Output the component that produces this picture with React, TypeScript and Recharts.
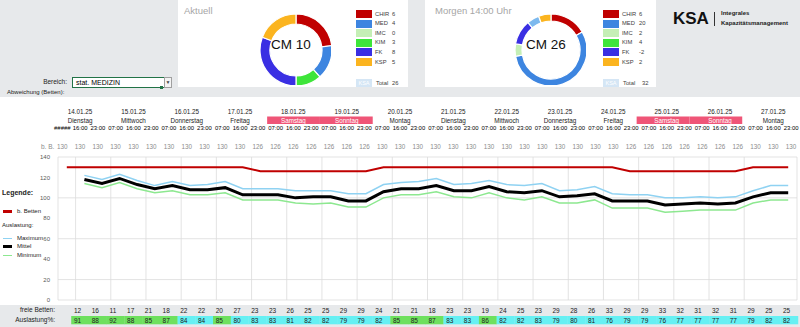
import React from 'react';
import { LineChart, Line, XAxis, YAxis, CartesianGrid, PieChart, Pie, Cell } from 'recharts';

// --- donut panels ---
const categories = ['CHIR', 'MED', 'IMC', 'KIM', 'FK', 'KSP'];
const categoryColors = ['#c00000', '#3d85e0', '#c5efb6', '#3ee53a', '#3a2fe3', '#fbb41f'];
const aktuellValues = [6, 4, 0, 3, 8, 5];
const aktuellTotal = 26;
const morgenValues = [6, 20, 2, 4, -2, 2];
const morgenTotal = 32;
// slice sizes / colours as they appear in the "Morgen" donut
const morgenSlices = [6, 20, 2, 4, 2, 2];
const morgenSliceColors = ['#c00000', '#3d85e0', '#c5efb6', '#3a2fe3', '#7db9ee', '#fbb41f'];

// --- timeline ---
const dates = ['14.01.25', '15.01.25', '16.01.25', '17.01.25', '18.01.25', '19.01.25', '20.01.25',
  '21.01.25', '22.01.25', '23.01.25', '24.01.25', '25.01.25', '26.01.25', '27.01.25'];
const weekdays = ['Dienstag', 'Mittwoch', 'Donnerstag', 'Freitag', 'Samstag', 'Sonntag', 'Montag',
  'Dienstag', 'Mittwoch', 'Donnerstag', 'Freitag', 'Samstag', 'Sonntag', 'Montag'];
const shiftTimes = ['07:00', '16:00', '23:00'];
const timeLabels = dates.flatMap((_, d) => shiftTimes.map((t, s) => (d === 0 && s === 0 ? '#####' : t)));

const betten = [130, 130, 130, 130, 130, 130, 130, 130, 130, 130, 130,
  126, 126, 126, 126, 126, 126, 126,
  130, 130, 130, 130, 130, 130, 130, 130, 130, 130, 130, 130, 130, 130,
  126, 126, 126, 126, 126, 126, 126,
  130, 130, 130];

// from slot 2 on
const maximum = [122, 118, 123, 117, 112, 116, 112, 113, 116, 109, 109, 109, 107, 107, 107, 104, 104,
  113, 115, 116, 119, 113, 114, 117, 113, 112, 114, 107, 108, 111, 104, 103, 103, 100, 100, 101, 100, 101,
  107, 112, 112];
const mittel = [118, 114, 119, 113, 109, 112, 108, 108, 110, 103, 103, 103, 100, 101, 101, 97, 97,
  106, 109, 109, 112, 107, 107, 111, 106, 105, 107, 101, 102, 104, 97, 97, 97, 93, 94, 95, 94, 95,
  101, 105, 105];
const minimum = [114, 110, 115, 109, 105, 107, 103, 103, 105, 98, 98, 98, 95, 94, 95, 91, 91,
  100, 103, 103, 106, 101, 100, 105, 100, 98, 101, 95, 95, 98, 90, 90, 90, 86, 87, 88, 88, 88,
  95, 98, 98];

const freieBetten = [12, 16, 11, 17, 21, 18, 22, 22, 20, 27, 23, 23, 26, 25, 25, 29, 29, 24, 21, 21,
  18, 23, 23, 19, 24, 25, 23, 29, 28, 26, 33, 29, 29, 33, 32, 31, 32, 31, 29, 25, 25];
const auslastung = [91, 88, 92, 88, 85, 87, 84, 84, 85, 80, 83, 83, 81, 82, 82, 79, 79, 82, 85, 85,
  87, 83, 83, 86, 82, 82, 83, 79, 80, 81, 76, 79, 79, 76, 77, 77, 77, 77, 79, 82, 82];

const yTicks = [0, 20, 40, 60, 80, 100, 120, 140];

const rows = betten.map((b, i) => ({
  x: i,
  bb: b,
  max: i === 0 ? null : maximum[i - 1],
  mittel: i === 0 ? null : mittel[i - 1],
  min: i === 0 ? null : minimum[i - 1],
}));
const slotTicks = betten.map((_, i) => i);
const tableTicks = slotTicks.slice(1);
const gridTicks = [...betten.map((_, i) => i - 0.5), betten.length - 0.5];
const xDomain = [-0.5, betten.length - 0.5];

const STEP = 17.6;
const FONT = "'Liberation Sans', Arial, sans-serif";
const GRAY = '#e7e9eb';

const HeaderTick = (props: any) => {
  const { x, y, payload } = props;
  const i = payload.value as number;
  const d = Math.floor(i / 3);
  const s = i % 3;
  const tx = x - 4.5 + 0.18 * i;
  const weekend = weekdays[d] === 'Samstag' || weekdays[d] === 'Sonntag';
  return (
    <g fontSize={6.3} fontFamily={FONT}>
      {weekend && s === 0 && (
        <rect x={x - STEP / 2 - 2} y={y - 40.5} width={STEP * 3} height={7.5} fill="#ef5577" />
      )}
      {s === 1 && <text x={tx} y={y - 43.5} textAnchor="middle" fill="#222">{dates[d]}</text>}
      {s === 1 && (
        <text x={tx} y={y - 34.5} textAnchor="middle" fill={weekend ? '#fff' : '#222'}>{weekdays[d]}</text>
      )}
      <text x={tx} y={y - 27} textAnchor="middle" fill="#000" fontSize={5.9}>{timeLabels[i]}</text>
      <text x={tx} y={y - 8} textAnchor="middle" fill="#8c8c8c">{betten[i]}</text>
    </g>
  );
};

const TableTick = (props: any) => {
  const { x, y, payload } = props;
  const i = payload.value as number;
  const j = i - 1;
  const left = x - STEP / 2 - 4.5 + 0.13 * i;
  const tx = left + STEP / 2 - 2.5;
  const pct = auslastung[j];
  return (
    <g fontSize={6.5} fontFamily={FONT}>
      <rect x={left} y={y + 16} width={STEP + 0.4} height={8.3} fill={pct >= 85 ? '#6ee05e' : '#66f0f3'} />
      <text x={tx} y={y + 12.5} textAnchor="middle" fill="#222">{freieBetten[j]}</text>
      <text x={tx} y={y + 22.5} textAnchor="middle" fill="#222">{pct}</text>
    </g>
  );
};

const Label = ({ x, y, size = 6.5, right, children, style }: any) => (
  <div
    style={{
      position: 'absolute',
      top: y - size * 0.6,
      ...(right !== undefined ? { right: 800 - right } : { left: x }),
      fontSize: size,
      lineHeight: `${size * 1.2}px`,
      whiteSpace: 'nowrap',
      color: '#222',
      ...style,
    }}
  >
    {children}
  </div>
);

const Panel = ({ left, width, title, titleX, pieLeft, inner, slices, colors, values, total, totalX, cm }: any) => {
  const pieData = slices.map((v: number, k: number) => ({ name: categories[k], value: v }));
  return (
    <div style={{ position: 'absolute', left, top: 0, width, height: 87, background: '#fff' }}>
      <Label x={titleX} y={11} size={9.5} style={{ color: '#a6a6a6' }}>{title}</Label>
      <div style={{ position: 'absolute', left: pieLeft, top: 5, width: 80, height: 80 }}>
        <PieChart width={80} height={80}>
          <Pie
            data={pieData}
            dataKey="value"
            cx={40}
            cy={40}
            innerRadius={inner}
            outerRadius={36}
            startAngle={90}
            endAngle={-270}
            stroke="#fff"
            strokeWidth={1.2}
            isAnimationActive={false}
          >
            {pieData.map((_: any, k: number) => (
              <Cell key={k} fill={colors[k]} />
            ))}
          </Pie>
        </PieChart>
        <div style={{ position: 'absolute', left: 0, top: 31, width: 80, textAlign: 'center', fontSize: 13.5, lineHeight: '18px', color: '#111' }}>
          {cm}
        </div>
      </div>
      {categories.map((c, k) => (
        <React.Fragment key={c}>
          <div style={{ position: 'absolute', left: 178, top: 10 + 9.6 * k, width: 16, height: 8, background: categoryColors[k] }} />
          <Label x={197} y={14 + 9.6 * k} size={5.8} style={{ color: '#404040' }}>{c}</Label>
          <Label x={214} y={14 + 9.6 * k} size={5.8} style={{ color: '#404040' }}>{values[k]}</Label>
        </React.Fragment>
      ))}
      <div style={{ position: 'absolute', left: 178, top: 79, width: 16, height: 8, background: '#d5e6f5', color: '#fff', fontSize: 5.5, lineHeight: '8px', textAlign: 'center' }}>KSA</div>
      <Label x={198} y={83} size={5.8} style={{ color: '#404040' }}>Total</Label>
      <Label x={totalX} y={83} size={5.8} style={{ color: '#404040' }}>{total}</Label>
    </div>
  );
};

const LegendLine = ({ y, color, w = 2, text }: any) => (
  <>
    <div style={{ position: 'absolute', left: 3, top: y - w / 2, width: 9, height: w, background: color }} />
    <Label x={17} y={y} size={6}>{text}</Label>
  </>
);

export default function App() {
  return (
    <div style={{ position: 'absolute', left: 0, top: 0, width: 800, height: 327, overflow: 'hidden', background: '#fff', fontFamily: FONT }}>
      <div style={{ position: 'absolute', left: 0, top: 0, width: 800, height: 97, background: GRAY }} />
      <div style={{ position: 'absolute', left: 0, top: 305, width: 800, height: 22, background: GRAY }} />

      <div style={{ position: 'absolute', left: 0, top: 0 }}>
        <LineChart width={800} height={327} data={rows} margin={{ top: 100, right: 3, bottom: 0, left: 0 }}>
          <CartesianGrid xAxisId="grid" stroke="#dcdcdc" strokeWidth={0.8} />
          <XAxis xAxisId="grid" type="number" dataKey="x" domain={xDomain} ticks={gridTicks} hide />
          <XAxis
            xAxisId="top"
            orientation="top"
            type="number"
            dataKey="x"
            domain={xDomain}
            ticks={slotTicks}
            interval={0}
            height={57}
            axisLine={false}
            tickLine={false}
            tickSize={0}
            tickMargin={0}
            tick={<HeaderTick />}
          />
          <XAxis
            xAxisId="bottom"
            orientation="bottom"
            type="number"
            dataKey="x"
            domain={xDomain}
            ticks={tableTicks}
            interval={0}
            height={27}
            axisLine={false}
            tickLine={false}
            tickSize={0}
            tickMargin={0}
            tick={<TableTick />}
          />
          <YAxis
            domain={[0, 140]}
            ticks={yTicks}
            width={58}
            axisLine={false}
            tickLine={false}
            tick={{ fontSize: 6, fill: '#595959' }}
          />
          <Line xAxisId="top" type="linear" dataKey="bb" stroke="#c00000" strokeWidth={2} dot={false} isAnimationActive={false} />
          <Line xAxisId="top" type="linear" dataKey="max" stroke="#8fd2f2" strokeWidth={1.5} dot={false} isAnimationActive={false} />
          <Line xAxisId="top" type="linear" dataKey="min" stroke="#8de890" strokeWidth={1.5} dot={false} isAnimationActive={false} />
          <Line xAxisId="top" type="linear" dataKey="mittel" stroke="#000" strokeWidth={3} dot={false} isAnimationActive={false} />
        </LineChart>
      </div>

      {/* left side labels */}
      <Label right={67} y={82}>Bereich:</Label>
      <div style={{ position: 'absolute', left: 72, top: 77, width: 88, height: 9, border: '1px solid #217346', background: '#fff', fontSize: 7, lineHeight: '9px', paddingLeft: 3, boxSizing: 'content-box' }}>
        stat. MEDIZIN
      </div>
      <div style={{ position: 'absolute', left: 160, top: 86, width: 3, height: 3, background: '#217346' }} />
      <div style={{ position: 'absolute', left: 164, top: 77, width: 6, height: 9, border: '1px solid #a0a0a0', background: '#f4f4f4', fontSize: 5, lineHeight: '9px', textAlign: 'center', color: '#444' }}>▼</div>
      <Label x={7} y={93} size={6}>Abweichung (Betten):</Label>
      <Label x={41} y={146.5} style={{ color: '#8c8c8c' }}>b. B.</Label>

      <Label x={2} y={193} size={7} style={{ fontWeight: 700 }}>Legende:</Label>
      <LegendLine y={211.5} color="#c00000" w={2.5} text="b. Betten" />
      <Label x={2} y={225.7} size={6}>Auslastung:</Label>
      <LegendLine y={238.3} color="#8fd2f2" w={1.5} text="Maximum" />
      <LegendLine y={246.7} color="#000" w={2.5} text="Mittel" />
      <LegendLine y={255.7} color="#8de890" w={1.5} text="Minimum" />

      <Label right={55} y={310}>freie Betten:</Label>
      <Label right={55} y={320}>Auslastung%:</Label>

      <Panel
        left={178}
        width={230}
        title="Aktuell"
        titleX={6}
        pieLeft={73}
        inner={26}
        slices={aktuellValues}
        colors={categoryColors}
        values={aktuellValues}
        total={aktuellTotal}
        totalX={214}
        cm="CM 10"
      />
      <Panel
        left={425}
        width={231}
        title="Morgen 14:00 Uhr"
        titleX={10}
        pieLeft={81}
        inner={29}
        slices={morgenSlices}
        colors={morgenSliceColors}
        values={morgenValues}
        total={morgenTotal}
        totalX={217}
        cm="CM 26"
      />

      {/* logo */}
      <div style={{ position: 'absolute', left: 673, top: 9, fontSize: 17, fontWeight: 700, lineHeight: '20px', color: '#111' }}>KSA</div>
      <div style={{ position: 'absolute', left: 714, top: 12, width: 1, height: 14, background: '#333' }} />
      <Label x={721} y={14} size={6} style={{ fontWeight: 600 }}>Integrales</Label>
      <Label x={721} y={23.5} size={6} style={{ fontWeight: 600 }}>Kapazitätsmanagement</Label>
    </div>
  );
}
